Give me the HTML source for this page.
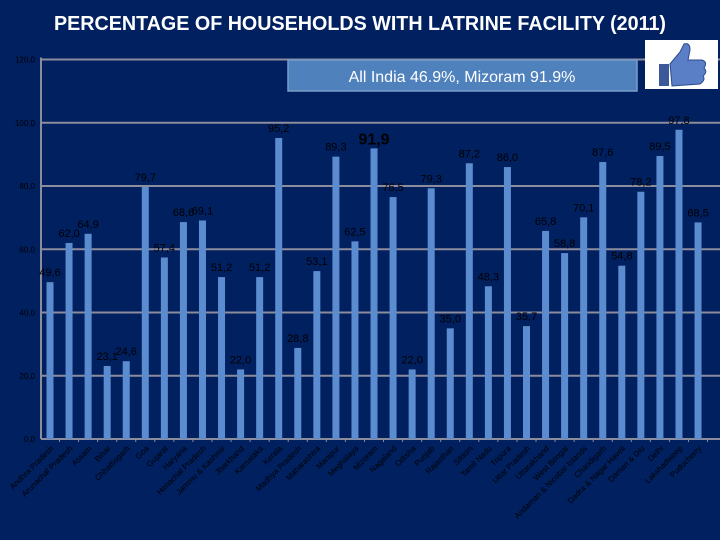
<!DOCTYPE html>
<html><head><meta charset="utf-8"><style>
body{margin:0;background:#012060;}
svg{display:block;font-family:"Liberation Sans",sans-serif;}
</style></head><body>
<svg id="c" width="720" height="540">
<rect width="720" height="540" fill="#012060"/>
<text x="360" y="30" text-anchor="middle" fill="#fff" font-weight="bold" font-size="20" textLength="612" lengthAdjust="spacingAndGlyphs">PERCENTAGE OF HOUSEHOLDS WITH LATRINE FACILITY (2011)</text>
<g id="grid"></g>
<g id="bars"></g>
<g id="labels"></g>
<rect x="288" y="60" width="349" height="31" fill="#4f81bd" stroke="#7a9cc8" stroke-width="1.5"/>
<text x="462" y="82" text-anchor="middle" fill="#fff" font-size="16">All India 46.9%, Mizoram 91.9%</text>
<g>
<rect x="645" y="40" width="73" height="49" fill="#fff"/>
<rect x="659" y="64" width="10" height="22" fill="#3b5998"/>
<path d="M670 64 L680 52 L684 44 Q690 42 690 50 L688 60 L702 60 Q708 62 704 68 Q708 72 703 76 Q706 80 700 84 L672 86 Z" fill="#5b7fc7" stroke="#2b4a8a"/>
</g>
</svg>
<script>
const categories=["Andhra Pradesh","Arunachal Pradesh","Assam","Bihar","Chhattisgarh","Goa","Gujarat","Haryana","Himachal Pradesh","Jammu & Kashmir","Jharkhand","Karnataka","Kerala","Madhya Pradesh","Maharashtra","Manipur","Meghalaya","Mizoram","Nagaland","Odisha","Punjab","Rajasthan","Sikkim","Tamil Nadu","Tripura","Uttar Pradesh","Uttarakhand","West Bengal","Andaman & Nicobar Islands","Chandigarh","Dadra & Nagar Haveli","Daman & Diu","Delhi","Lakshadweep","Puducherry"];
const values=[49.6,62.0,64.9,23.1,24.6,79.7,57.4,68.6,69.1,51.2,22.0,51.2,95.2,28.8,53.1,89.3,62.5,91.9,76.5,22.0,79.3,35.0,87.2,48.3,86.0,35.7,65.8,58.8,70.1,87.6,54.8,78.2,89.5,97.8,68.5];
const ticks=[0,20,40,60,80,100,120];
const NS="http://www.w3.org/2000/svg";
const x0=41,step=19.06,first=50,y0=439,ppu=3.162;
const xs=i=>first+i*step, ys=v=>y0-v*ppu;
function mk(t,a,p){const e=document.createElementNS(NS,t);for(const k in a)e.setAttribute(k,a[k]);p.appendChild(e);return e;}
const g=document.getElementById('grid'),b=document.getElementById('bars'),l=document.getElementById('labels');
ticks.forEach(t=>{
 const ln=mk('line',{x1:x0,x2:720,y1:ys(t),y2:ys(t),stroke:'#8c8c9c','stroke-width':2},g);
 
 
 const tx=mk('text',{x:35,y:ys(t)+3,'text-anchor':'end','font-size':8,fill:'#000'},g);
 tx.textContent=t.toFixed(1).replace('.',',');
 
 
});
const ax=mk('line',{x1:x0,x2:x0,y1:ys(120)-2,y2:y0,stroke:'#8c8c9c','stroke-width':2},g);


values.forEach((v,i)=>{
 const x=xs(i);
 const r=mk('rect',{x:x-3.5,y:ys(v),width:7,height:v*ppu,fill:'#5b8cd0'},b);
 
 
 const tk=mk('line',{x1:x+9.5,x2:x+9.5,y1:y0,y2:y0+3,stroke:'#8c8c9c'},g);
 
 
 const big=categories[i]==="Mizoram";
 const vt=mk('text',{x:x,y:ys(v)-(big?4:6),'text-anchor':'middle','font-size':big?16:11,'font-weight':big?'bold':'normal',fill:'#000'},l);
 vt.textContent=v.toFixed(1).replace('.',',');
 
 
 const ct=mk('text',{x:x+4,y:y0+10,'text-anchor':'end','font-size':8,fill:'#000',transform:`rotate(-45 ${x+4} ${y0+10})`},l);
 ct.textContent=categories[i];
 
 
});
</script>
</body></html>
